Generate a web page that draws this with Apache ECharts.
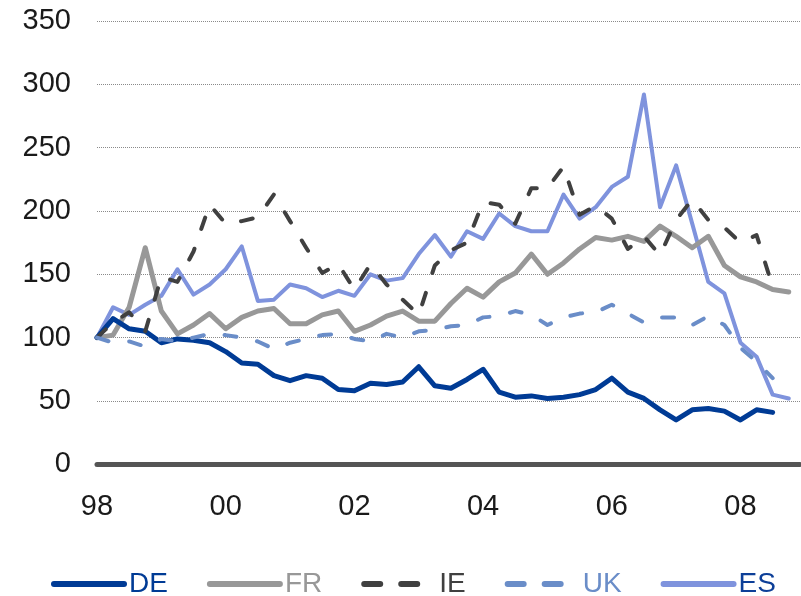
<!DOCTYPE html>
<html><head><meta charset="utf-8">
<script src="https://cdn.jsdelivr.net/npm/echarts@6/dist/echarts.min.js"></script>
<style>html,body{margin:0;padding:0;background:#fff}#c{width:801px;height:596px}</style>
</head><body><div id="c"></div>
<script>
// Quarterly index (1998 Q1 = 100)
const yearLabels = ['98', '00', '02', '04', '06', '08'];
const quartersPerLabel = 8;
const seriesNames = ['DE', 'FR', 'IE', 'UK', 'ES'];
const deValues = [100,115,107,105,96,99,98,96,89,80,79,70,66,70,68,59,58,64,63,65,77,62,60,67,75,57,53,54,52,53,55,59,68,57,52,43,35,43,44,42,35,43,41];
const frValues = [100,102,124,171,121,103,110,119,107,116,121,123,111,111,118,121,105,110,117,121,113,113,127,139,132,144,151,166,150,159,170,179,177,180,176,188,180,171,180,157,148,144,138,136];
const ieValues = [100,112,120,105,148,144,168,205,190,192,195,213,192,171,151,158,138,158,142,130,118,157,169,175,207,205,190,218,218,235,197,204,194,170,180,165,193,209,193,187,175,181,140];
const ukValues = [100,96,97,93,99,97,100,103,102,100,97,91,96,99,102,103,99,97,103,100,105,106,109,110,116,117,121,118,110,116,119,120,126,119,112,116,116,110,117,110,92,81,68];
const esValues = [100,124,118,126,133,154,134,142,154,172,129,130,142,139,132,137,133,150,145,147,166,181,164,184,178,198,188,184,184,213,194,203,219,227,292,203,236,190,144,135,96,85,55,52];

const FONT = "'Liberation Sans', Arial, sans-serif";
const colors = {DE:'#003b95', FR:'#989898', IE:'#404040', UK:'#6a8dc8', ES:'#7f93dd'};
const textColors = {DE:'#003b95', FR:'#989898', IE:'#404040', UK:'#6a8dc8', ES:'#0d3f98'};
const pts = arr => arr.map((v, i) => [i, v]);

const chart = echarts.init(document.getElementById('c'), null, {renderer:'canvas'});
function lineSeries(name, values, width, dash, z) {
  return {
    name, type:'line', data: pts(values), symbol:'none', z,
    lineStyle:{color:colors[name], width, type: dash || 'solid', cap:'round', join:'round'},
    itemStyle:{color:colors[name]}
  };
}
chart.setOption({
  animation:false,
  grid:{left:97, top:21, width:703, height:443.3},
  xAxis:{
    type:'value', min:0, max:43.7, interval:quartersPerLabel,
    axisLine:{onZero:true, lineStyle:{color:'#555555', width:5}},
    axisTick:{show:false}, splitLine:{show:false},
    axisLabel:{fontSize:29, fontFamily:FONT, color:'#1a1a1a', margin:28, showMaxLabel:false,
      formatter: v => (v % quartersPerLabel === 0 ? (yearLabels[v / quartersPerLabel] || '') : '')}
  },
  yAxis:{
    type:'value', min:0, max:350, interval:50,
    axisLine:{show:false}, axisTick:{show:false},
    axisLabel:{fontSize:29, fontFamily:FONT, color:'#1a1a1a', margin:26},
    splitLine:{lineStyle:{color:'#8a8a8a', width:1, type:[1,1]}}
  },
  legend:{
    left:46, top:565, itemWidth:70, itemHeight:14, itemGap:39,
    textStyle:{fontSize:28, fontFamily:FONT, lineHeight:28},
    itemStyle:{opacity:0},
    lineStyle:{width:6, cap:'round'},
    data: seriesNames.map(n => ({
      name:n, textStyle:{color:textColors[n], fontSize:28, fontFamily:FONT},
      itemStyle:{opacity:0},
      lineStyle:{width:6, color:colors[n], type:(n === 'IE' || n === 'UK') ? [16,21] : 'solid', cap:'round'}
    }))
  },
  series:[
    lineSeries('ES', esValues, 4, null, 2),
    lineSeries('FR', frValues, 5, null, 3),
    lineSeries('DE', deValues, 5, null, 4),
    lineSeries('IE', ieValues, 4, [12,21], 5),
    lineSeries('UK', ukValues, 4, [12,21], 6)
  ]
});
</script></body></html>
